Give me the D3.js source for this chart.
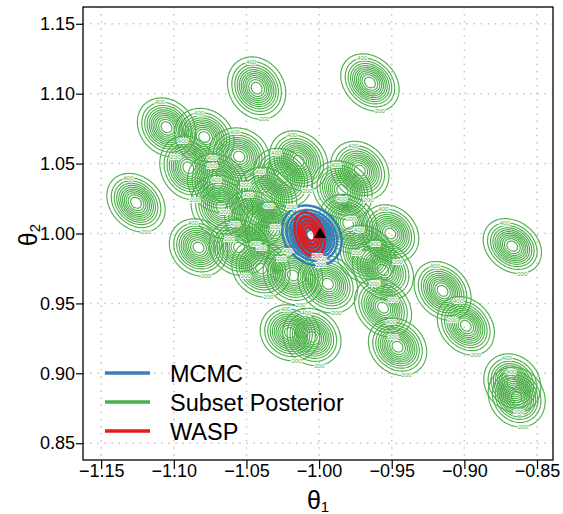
<!DOCTYPE html>
<html>
<head>
<meta charset="utf-8">
<script src="https://cdn.jsdelivr.net/npm/d3@7"></script>
<style>
  body { margin: 0; background: #fff; }
  text { font-family: "Liberation Sans", Arial, sans-serif; }
</style>
</head>
<body>
<svg width="563" height="514"></svg>
<script>
// subset posteriors: centre, spread and correlation
const subsetTheta1 = [-1.126, -1.043, -0.965, -1.105, -1.079, -1.090, -1.055, -1.014, -1.067, -1.036,
                      -1.083, -1.055, -0.984, -0.951, -0.956, -0.956, -0.946, -0.915, -0.899, -0.867,
                      -0.867, -0.864, -1.020, -1.005, -0.994, -0.980, -1.031, -1.018,
                      -1.070, -1.045, -1.025, -0.972, -0.968, -1.040];
const subsetTheta2 = [1.022, 1.104, 1.108, 1.076, 1.069, 1.047, 1.055, 1.052, 1.019, 1.026,
                      0.990, 0.990, 1.031, 1.000, 0.974, 0.947, 0.919, 0.959, 0.934, 0.991,
                      0.893, 0.883, 0.929, 0.926, 0.964, 1.007, 1.002, 0.970,
                      1.036, 1.010, 1.040, 1.045, 0.985, 0.975];
const subsetSd1 = [0.0090, 0.0090, 0.0090, 0.0090, 0.0092, 0.0088, 0.0094, 0.0090, 0.0095, 0.0092,
                   0.0090, 0.0092, 0.0092, 0.0088, 0.0094, 0.0088, 0.0090, 0.0088, 0.0088, 0.0090,
                   0.0088, 0.0088, 0.0092, 0.0090, 0.0092, 0.0090, 0.0090, 0.0092,
                   0.0092, 0.0090, 0.0090, 0.0090, 0.0092, 0.0090];
const subsetSd2 = [0.0094, 0.0100, 0.0092, 0.0094, 0.0092, 0.0102, 0.0092, 0.0096, 0.0102, 0.0096,
                   0.0092, 0.0090, 0.0094, 0.0092, 0.0096, 0.0094, 0.0092, 0.0094, 0.0094, 0.0088,
                   0.0094, 0.0096, 0.0090, 0.0092, 0.0094, 0.0094, 0.0092, 0.0094,
                   0.0094, 0.0092, 0.0094, 0.0094, 0.0094, 0.0092];
const subsetRho = [-0.24, -0.16, -0.24, -0.18, -0.14, -0.14, -0.10, -0.18, -0.14, -0.18,
                   -0.14, -0.10, -0.18, -0.18, -0.24, -0.24, -0.18, -0.24, -0.24, -0.24,
                   -0.14, -0.14, -0.10, -0.14, -0.18, -0.18, -0.14, -0.14,
                   -0.14, -0.14, -0.18, -0.18, -0.18, -0.14];
const subsetPeak = 2400;
const subsetLevels = [200, 400, 600, 800, 1000, 1200, 1400, 1600, 1800, 2000, 2200];

const mcmcCentre = [-1.005, 0.9986];
const mcmcSd = [0.0092, 0.0096];
const mcmcRho = -0.2;
const mcmcPeak = 2400;
const mcmcLevels = [200, 400, 600, 800, 1000, 1200, 1400, 1600, 1800, 2000, 2200];

const waspCentre = [-1.0065, 0.9995];
const waspSd = [0.0055, 0.0083];
const waspRho = -0.30;
const waspPeak = 3000;
const waspLevels = [500, 1000, 1500, 2000, 2500];

const truth = [-1, 1];

const xTicks = [-1.15, -1.10, -1.05, -1.00, -0.95, -0.90, -0.85];
const yTicks = [0.85, 0.90, 0.95, 1.00, 1.05, 1.10, 1.15];
const legendLabels = ['MCMC', 'Subset Posterior', 'WASP'];
const legendColors = ['#377eb8', '#4daf4a', '#e41a1c'];

const svg = d3.select('svg');
const plotLeft = 83, plotRight = 553, plotTop = 7, plotBottom = 460;

const x = d3.scaleLinear().domain([-1.1625, -0.839]).range([plotLeft, plotRight]);
const y = d3.scaleLinear().domain([0.838, 1.162]).range([plotBottom, plotTop]);

svg.append('clipPath').attr('id', 'plot')
  .append('rect').attr('x', plotLeft).attr('y', plotTop)
  .attr('width', plotRight - plotLeft).attr('height', plotBottom - plotTop);

// dotted grid
const grid = svg.append('g')
  .attr('stroke', '#c4c4c4').attr('stroke-width', 1.5).attr('stroke-dasharray', '1.5,5.6');
grid.selectAll('.gx').data(xTicks).join('line').attr('class', 'gx')
  .attr('x1', d => x(d)).attr('x2', d => x(d)).attr('y1', plotTop).attr('y2', plotBottom);
grid.selectAll('.gy').data(yTicks).join('line').attr('class', 'gy')
  .attr('y1', d => y(d)).attr('y2', d => y(d)).attr('x1', plotLeft).attr('x2', plotRight);

const plotG = svg.append('g').attr('clip-path', 'url(#plot)');
const labelG = svg.append('g').attr('clip-path', 'url(#plot)');

// density surface on a small local grid, then d3.contours
const half = 0.04, step = 0.0008, n = Math.round(2 * half / step) + 1;

function drawDensity(c1, c2, s1, s2, rho, peak, levels, color, width, labels) {
  const values = new Float64Array(n * n);
  for (let j = 0; j < n; j++) {
    const v = (half - j * step) / s2;
    for (let i = 0; i < n; i++) {
      const u = (-half + i * step) / s1;
      values[j * n + i] = peak * Math.exp(-(u * u - 2 * rho * u * v + v * v) / (2 * (1 - rho * rho)));
    }
  }
  const gx = px => c1 - half + (px - 0.5) * step;
  const gy = py => c2 + half - (py - 0.5) * step;
  const proj = d3.geoTransform({
    point(px, py) { this.stream.point(x(gx(px)), y(gy(py))); }
  });
  const path = d3.geoPath(proj);
  const contours = d3.contours().size([n, n]).thresholds(levels)(values);

  plotG.append('g')
    .attr('fill', 'none').attr('stroke', color).attr('stroke-width', width)
    .attr('stroke-linejoin', 'round')
    .selectAll('path').data(contours).join('path').attr('d', path);

  // little contour labels, R style
  labels.forEach(([level, where]) => {
    const c = contours.find(d => d.value === level);
    if (!c || !c.coordinates.length) return;
    let best = null;
    c.coordinates.forEach(poly => poly.forEach(ring => ring.forEach(p => {
      if (!best || (where === 'bottom' ? p[1] > best[1] : p[1] < best[1])) best = p;
    })));
    labelG.append('text')
      .attr('x', x(gx(best[0])) + (where === 'bottom' ? 3 : -2))
      .attr('y', y(gy(best[1])))
      .attr('text-anchor', 'middle').attr('dominant-baseline', 'central')
      .attr('font-size', 6).attr('fill', color)
      .attr('stroke', '#fff').attr('stroke-width', 1.8).attr('paint-order', 'stroke')
      .text(level);
  });
}

subsetTheta1.forEach((t1, i) => {
  drawDensity(t1, subsetTheta2[i], subsetSd1[i], subsetSd2[i], subsetRho[i], subsetPeak,
    subsetLevels, legendColors[1], 1.15, [[200, 'bottom'], [400, 'top']]);
});
drawDensity(mcmcCentre[0], mcmcCentre[1], mcmcSd[0], mcmcSd[1], mcmcRho, mcmcPeak,
  mcmcLevels, legendColors[0], 2.5, [[200, 'bottom']]);
drawDensity(waspCentre[0], waspCentre[1], waspSd[0], waspSd[1], waspRho, waspPeak,
  waspLevels, legendColors[2], 2.3, [[500, 'bottom']]);

svg.append('path')
  .attr('d', d3.symbol(d3.symbolTriangle, 62)())
  .attr('transform', `translate(${x(truth[0]) + 1},${y(truth[1]) + 1})`)
  .attr('fill', '#000');

// legend
const legend = svg.append('g');
legendLabels.forEach((lab, i) => {
  const ly = 373 + i * 29;
  legend.append('line')
    .attr('x1', 105).attr('x2', 150).attr('y1', ly).attr('y2', ly)
    .attr('stroke', legendColors[i]).attr('stroke-width', 3.5);
  legend.append('text')
    .attr('x', 170).attr('y', ly + 8.5)
    .attr('font-size', 23.5).attr('fill', '#000')
    .text(lab);
});

// axes
const fmt = d3.format('.2f');
const xAxis = svg.append('g').attr('transform', `translate(0,${plotBottom})`)
  .call(d3.axisBottom(x).tickValues(xTicks).tickFormat(fmt)
    .tickSize(9).tickSizeOuter(0).tickPadding(-5));
const yAxis = svg.append('g').attr('transform', `translate(${plotLeft},0)`)
  .call(d3.axisLeft(y).tickValues(yTicks).tickFormat(fmt)
    .tickSize(7).tickSizeOuter(0).tickPadding(1));
[xAxis, yAxis].forEach(a => {
  a.select('.domain').remove();
  a.selectAll('.tick line').attr('stroke', '#000').attr('stroke-width', 1.2);
  a.selectAll('.tick text').attr('font-size', 18).attr('fill', '#000')
    .attr('font-family', '"Liberation Sans", Arial, sans-serif');
});

// frame
svg.append('rect')
  .attr('x', plotLeft).attr('y', plotTop)
  .attr('width', plotRight - plotLeft).attr('height', plotBottom - plotTop)
  .attr('fill', 'none').attr('stroke', '#000').attr('stroke-width', 1.3);

// axis titles
const xt = svg.append('text').attr('x', 318).attr('y', 509)
  .attr('text-anchor', 'middle').attr('font-size', 25);
xt.append('tspan').text('θ');
xt.append('tspan').attr('font-size', 15).attr('dy', 3).text('1');

const yt = svg.append('text').attr('transform', 'translate(37,235) rotate(-90)')
  .attr('text-anchor', 'middle').attr('font-size', 25);
yt.append('tspan').text('θ');
yt.append('tspan').attr('font-size', 15).attr('dy', 3).text('2');
</script>
</body>
</html>
